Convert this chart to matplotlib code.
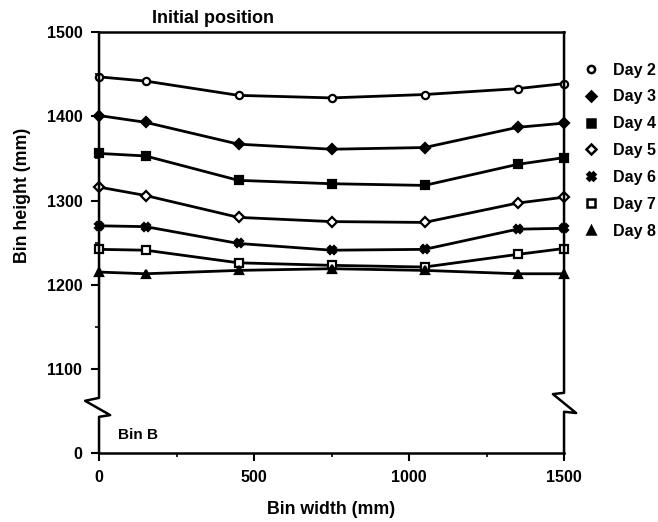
import matplotlib
matplotlib.use("Agg")
import matplotlib.pyplot as plt
from matplotlib.lines import Line2D

plt.rcParams["font.family"] = ["Liberation Sans", "DejaVu Sans"]
plt.rcParams["font.weight"] = "bold"

# bin width positions (mm)
width_mm = [0, 150, 450, 750, 1050, 1350, 1500]

# bin height (mm) for each day
day2 = [1447, 1442, 1425, 1422, 1426, 1433, 1439]
day3 = [1401, 1393, 1367, 1361, 1363, 1387, 1392]
day4 = [1356, 1353, 1324, 1320, 1318, 1343, 1351]
day5 = [1316, 1306, 1280, 1275, 1274, 1297, 1304]
day6 = [1270, 1269, 1249, 1241, 1242, 1266, 1267]
day7 = [1242, 1241, 1226, 1223, 1221, 1236, 1243]
day8 = [1215, 1213, 1217, 1219, 1217, 1213, 1213]

labels = ["Day 2", "Day 3", "Day 4", "Day 5", "Day 6", "Day 7", "Day 8"]
series = [day2, day3, day4, day5, day6, day7, day8]

# y axis is broken: the "0" tick sits where 1000 would be
y_ticks = [1000, 1100, 1200, 1300, 1400, 1500]
y_ticklabels = ["0", "1100", "1200", "1300", "1400", "1500"]
x_ticks = [0, 500, 1000, 1500]

# marker, facecolor
styles = [("o", "white"), ("D", "black"), ("s", "black"), ("D", "white"),
          ("X", "black"), ("s", "white"), ("^", "black")]

fig = plt.figure(figsize=(6.58, 5.22), dpi=100)
ax = fig.add_axes([0.1505, 0.1322, 0.7067, 0.806])

handles = []
for vals, lab, (mk, fc) in zip(series, labels, styles):
    ms = 5.2 if mk in ("o", "s", "X", "^") else 4.6
    ax.plot(width_mm, vals, color="black", lw=2.0, marker=mk, ms=ms,
            mfc=fc, mec="black", mew=1.6, clip_on=False, zorder=3)
    handles.append(Line2D([], [], ls="none", marker=mk, ms=ms, mfc=fc,
                          mec="black", mew=1.8, label=lab))

ax.set_xlim(0, 1500)
ax.set_ylim(1000, 1500)
ax.set_xticks(x_ticks)
ax.set_xticks([250, 750, 1250], minor=True)
ax.set_yticks(y_ticks)
ax.set_yticklabels(y_ticklabels)
ax.set_yticks([1150, 1250, 1350, 1450], minor=True)
ax.tick_params(axis="both", which="major", direction="out", length=6,
               width=1.5, labelsize=11.5, pad=6)
ax.tick_params(axis="both", which="minor", direction="out", length=3,
               width=1.2)

for s in ["top", "bottom"]:
    ax.spines[s].set_linewidth(1.8)
ax.spines["left"].set_visible(False)
ax.spines["right"].set_visible(False)

# side walls with break marks
left_x = [0, 0, -0.030, 0.024, 0, 0]
left_y = [1, 0.131, 0.124, 0.090, 0.086, 0]
ax.plot(left_x, left_y, color="black", lw=1.8, transform=ax.transAxes,
        clip_on=False, zorder=4)
right_x = [1, 1, 0.976, 1.026, 1, 1]
right_y = [1, 0.143, 0.140, 0.095, 0.098, 0]
ax.plot(right_x, right_y, color="black", lw=1.8, transform=ax.transAxes,
        clip_on=False, zorder=4)

ax.set_xlabel("Bin width (mm)", fontsize=12.8, fontweight="bold", labelpad=12)
ax.set_ylabel("Bin height (mm)", fontsize=12.8, fontweight="bold")
ax.yaxis.set_label_coords(-0.147, 0.613)

fig.text(0.324, 0.9655, "Initial position", fontsize=13, fontweight="bold",
         ha="center", va="center")
ax.text(60, 1021, "Bin B", fontsize=11, fontweight="bold", va="center")

ax.legend(handles=handles, loc="upper left", bbox_to_anchor=(1.03, 0.943),
          frameon=False, fontsize=11.5, handlelength=0.8, handletextpad=1.0,
          labelspacing=0.74, borderaxespad=0)

fig.savefig("out.png", dpi=100)
